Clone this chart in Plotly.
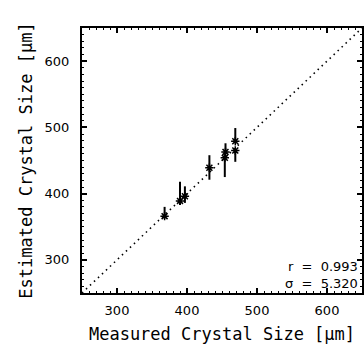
import plotly.graph_objects as go

# Data
measured = [368, 390, 397, 432, 454, 455, 469, 469]
estimated = [366, 389, 396, 439, 454, 463, 479, 465]
err_plus = [14, 29, 15, 19, 0, 13, 20, 0]
err_minus = [3, 6, 10, 18, 29, 0, 0, 17]
axis_range = [250, 650]
tick_vals = [300, 400, 500, 600]
r_value = "0.993"
sigma_value = "5.320"

fig = go.Figure()

# y = x reference line
fig.add_trace(go.Scatter(
    x=axis_range, y=axis_range, mode="lines",
    line=dict(color="black", width=1.6, dash="1.5px,4px"),
    hoverinfo="skip", showlegend=False,
))

fig.add_trace(go.Scatter(
    x=measured, y=estimated, mode="markers",
    marker=dict(symbol="asterisk-open", size=7, color="black",
                line=dict(color="black", width=1.5)),
    error_y=dict(type="data", symmetric=False, array=err_plus,
                 arrayminus=err_minus, color="black", thickness=2, width=0),
    showlegend=False,
))

axis_common = dict(
    range=axis_range, tickvals=tick_vals, showline=True, linecolor="black",
    linewidth=2, mirror="allticks", ticks="inside", ticklen=5, tickwidth=1.5,
    tickcolor="black", showgrid=False, zeroline=False, automargin=False,
    tickfont=dict(family="DejaVu Sans", size=13, color="black"),
    minor=dict(dtick=10, ticks="inside", ticklen=2, tickwidth=1, tickcolor="black",
               showgrid=False),
)

fig.update_xaxes(**axis_common, ticklabelstandoff=4,
                 title=dict(text="Measured Crystal Size [μm]",
                            font=dict(family="DejaVu Sans Mono", size=17, color="black"),
                            standoff=12))
fig.update_yaxes(**axis_common, ticklabelstandoff=8,
                 title=dict(text="Estimated Crystal Size [μm]",
                            font=dict(family="DejaVu Sans Mono", size=17, color="black"),
                            standoff=8))

ann_font = dict(family="DejaVu Sans", size=13, color="black")
fig.add_annotation(
    x=0.99, y=0.005, xref="paper", yref="paper",
    text=f"r &nbsp;=&nbsp; {r_value}<br>σ &nbsp;=&nbsp; {sigma_value}",
    showarrow=False, xanchor="right", yanchor="bottom", align="right",
    font=ann_font, borderpad=0,
)

fig.update_layout(
    width=364, height=353,
    margin=dict(l=82, r=2, t=28, b=60),
    paper_bgcolor="white", plot_bgcolor="white",
)

fig.write_html("out.html", post_script="document.body.style.margin='0px';",
               config={"displayModeBar": False})
